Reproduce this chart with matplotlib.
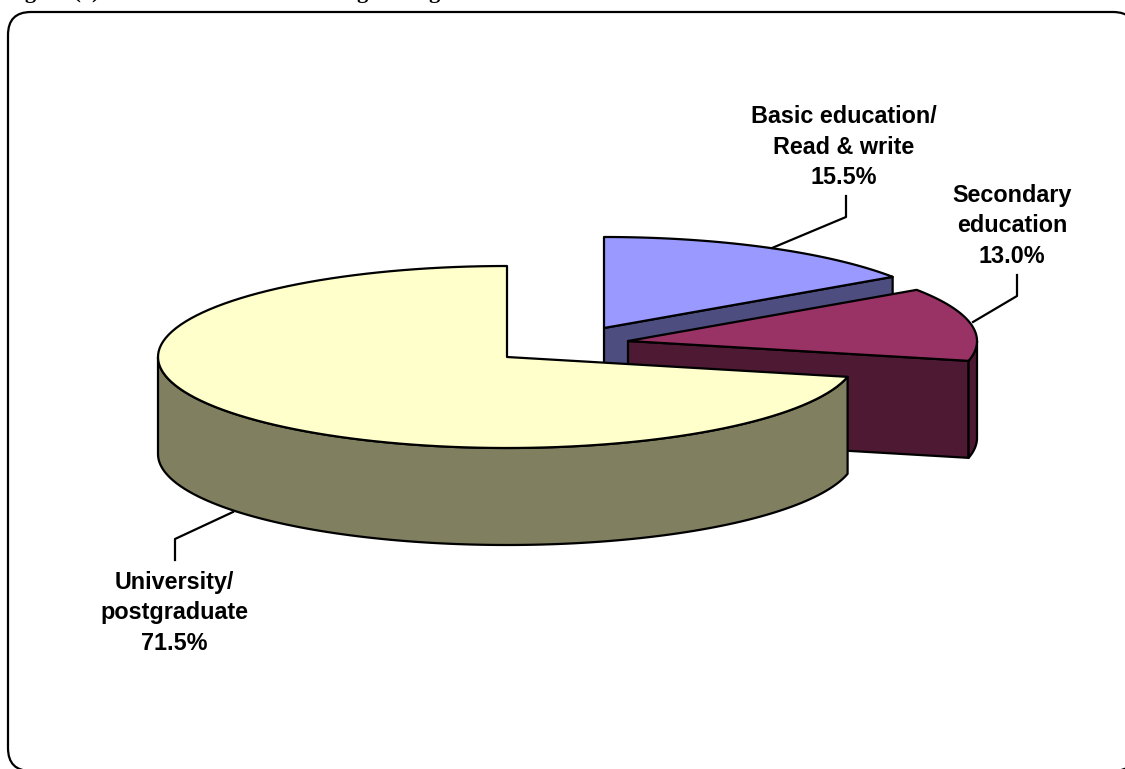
import numpy as np
import matplotlib
matplotlib.use("Agg")
import matplotlib.pyplot as plt
from matplotlib.patches import FancyBboxPatch, Polygon

# values, clockwise from 12 o'clock
categories = ["Basic education/\nRead & write", "Secondary\neducation", "University/\npostgraduate"]
shares = [15.5, 13.0, 71.5]
top_colors = ["#9999FF", "#993366", "#FFFFCC"]
side_colors = ["#4D4D80", "#4D1933", "#808060"]

# layout in image pixels
centers = [(604, 328), (628, 341), (507, 357)]
label_pos = [(844, 147), (1012, 226), (174, 613)]
leaders = [[(772, 248), (846, 217), (846, 196)],
           [(973, 322), (1017, 296), (1017, 275)],
           [(233, 512), (175, 539), (175, 560)]]
RX = 349
RY = 91
DEPTH = 97
LW = 1.6


def rim(cx, cy, t0, t1):
    t = np.radians(np.linspace(t0, t1, 120))
    return np.column_stack([cx + RX * np.sin(t), cy - RY * np.cos(t)])


def add_poly(ax, pts, color, z):
    ax.add_patch(Polygon(pts, closed=True, facecolor=color, edgecolor="black",
                         linewidth=LW, joinstyle="round", zorder=z))


fig = plt.figure(figsize=(11.25, 7.69), dpi=100)
ax = fig.add_axes([0, 0, 1, 1])
ax.set_xlim(0, 1125)
ax.set_ylim(769, 0)
ax.axis("off")

# outer frame, runs off the right and bottom edge
ax.add_patch(FancyBboxPatch((31, 35), 1082, 713, boxstyle="round,pad=23,rounding_size=23",
                            facecolor="white", edgecolor="black", linewidth=1.6, zorder=0))

# title is cut off by the top of the picture, only these bits can be read
for x, txt in [(5, "Figure (1):"), (356, "g"), (428, "g")]:
    ax.text(x, -2, txt, family="Liberation Serif", fontweight="bold", fontsize=16,
            ha="left", va="baseline", zorder=1)

edges = np.cumsum([0] + shares) * 3.6

for i in range(3):
    cx, cy = centers[i]
    t0, t1 = edges[i], edges[i + 1]
    z = 2 + i * 3
    end = rim(cx, cy, t1, t1)[0]

    # flat cut face, only the two slices at the back show it
    if i < 2:
        add_poly(ax, [(cx, cy), end, end + (0, DEPTH), (cx, cy + DEPTH)], side_colors[i], z)

    # curved outer wall on the front half of the ellipse
    a, b = max(t0, 90), min(t1, 270)
    if a < b:
        front = rim(cx, cy, a, b)
        add_poly(ax, np.vstack([front, front[::-1] + (0, DEPTH)]), side_colors[i], z + 1)

    add_poly(ax, np.vstack([[(cx, cy)], rim(cx, cy, t0, t1)]), top_colors[i], z + 2)

for i in range(3):
    pts = np.array(leaders[i])
    ax.plot(pts[:, 0], pts[:, 1], color="black", linewidth=LW, zorder=12)
    ax.text(label_pos[i][0], label_pos[i][1], "%s\n%.1f%%" % (categories[i], shares[i]),
            family="Liberation Sans", fontweight="bold", fontsize=16.8, ha="center",
            va="center", linespacing=1.42, zorder=13)

fig.savefig("out.png", dpi=100)
